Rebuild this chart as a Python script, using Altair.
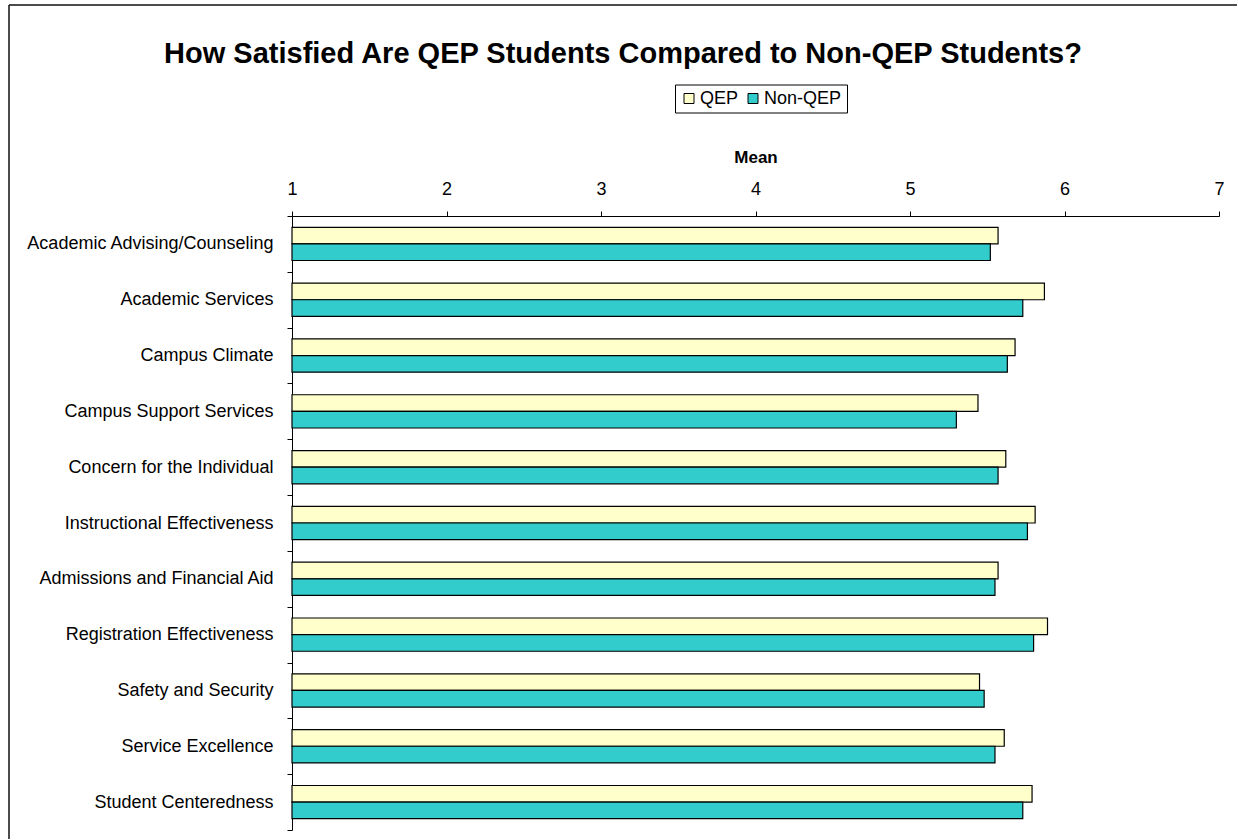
import altair as alt
import pandas as pd

categories = [
    "Academic Advising/Counseling",
    "Academic Services",
    "Campus Climate",
    "Campus Support Services",
    "Concern for the Individual",
    "Instructional Effectiveness",
    "Admissions and Financial Aid",
    "Registration Effectiveness",
    "Safety and Security",
    "Service Excellence",
    "Student Centeredness",
]
qep = [5.57, 5.87, 5.68, 5.44, 5.62, 5.81, 5.57, 5.89, 5.45, 5.61, 5.79]
non_qep = [5.52, 5.73, 5.63, 5.30, 5.57, 5.76, 5.55, 5.80, 5.48, 5.55, 5.73]
series = ["QEP", "Non-QEP"]
colors = ["#FFFFCC", "#33CCCC"]
x_ticks = [1, 2, 3, 4, 5, 6, 7]

rows = []
for c, a, b in zip(categories, qep, non_qep):
    rows.append({"category": c, "series": "QEP", "mean": a})
    rows.append({"category": c, "series": "Non-QEP", "mean": b})
df = pd.DataFrame(rows)

FONT = "Liberation Sans"

bars = alt.Chart(df).mark_bar(stroke="black", strokeWidth=1.2).encode(
    x=alt.X(
        "mean:Q",
        scale=alt.Scale(domain=[1, 7], nice=False, zero=False),
        axis=alt.Axis(
            orient="top",
            values=x_ticks,
            format="d",
            title="Mean",
            titleFont=FONT,
            titleFontSize=17,
            titleFontWeight="bold",
            titleColor="black",
            titlePadding=14,
            labelFont=FONT,
            labelFontSize=18,
            labelColor="black",
            labelPadding=13,
            labelFlush=False,
            tickSize=5,
            tickColor="black",
            domainColor="black",
            grid=False,
        ),
    ),
    x2=alt.datum(1),
    y=alt.Y(
        "category:N",
        sort=categories,
        scale=alt.Scale(paddingInner=0, paddingOuter=0),
        axis=alt.Axis(
            title=None,
            labelFont=FONT,
            labelFontSize=18,
            labelColor="black",
            labelPadding=14,
            labelLimit=400,
            tickSize=5,
            tickColor="black",
            tickBand="extent",
            domainColor="black",
            grid=False,
        ),
    ),
    yOffset=alt.YOffset(
        "series:N",
        sort=series,
        scale=alt.Scale(paddingInner=0, paddingOuter=0.68),
    ),
    color=alt.Color(
        "series:N",
        sort=series,
        scale=alt.Scale(domain=series, range=colors),
        title=None,
        legend=alt.Legend(
            orient="none",
            legendX=383,
            legendY=-131.5,
            direction="horizontal",
            symbolType="square",
            symbolSize=100,
            symbolStrokeColor="black",
            symbolStrokeWidth=1,
            labelFont=FONT,
            labelFontSize=18,
            labelColor="black",
            labelOffset=2,
            columnPadding=5,
            padding=5,
            strokeColor="black",
            cornerRadius=0,
        ),
    ),
)

frame = pd.DataFrame({"k": [0]})
left_line = alt.Chart(frame).mark_rule(color="#111111", strokeWidth=1.5).encode(
    x=alt.value(-283), y=alt.value(-211), y2=alt.value(623)
)
top_line = alt.Chart(frame).mark_rule(color="#111111", strokeWidth=1.5).encode(
    x=alt.value(-283), x2=alt.value(945), y=alt.value(-211)
)

chart = (
    alt.layer(bars, left_line, top_line)
    .properties(
        width=927,
        height=614,
        padding={"left": 8, "top": 4, "right": 0, "bottom": 0},
        title=alt.TitleParams(
            "How Satisfied Are QEP Students Compared to Non-QEP Students?",
            font=FONT,
            fontSize=29,
            fontWeight="bold",
            color="black",
            anchor="middle",
            frame="bounds",
            offset=-65,
        ),
    )
    .configure(background="white")
    .configure_view(strokeWidth=0, strokeOpacity=0)
)

chart.save("out.html", embed_options={"renderer": "svg", "actions": False})
